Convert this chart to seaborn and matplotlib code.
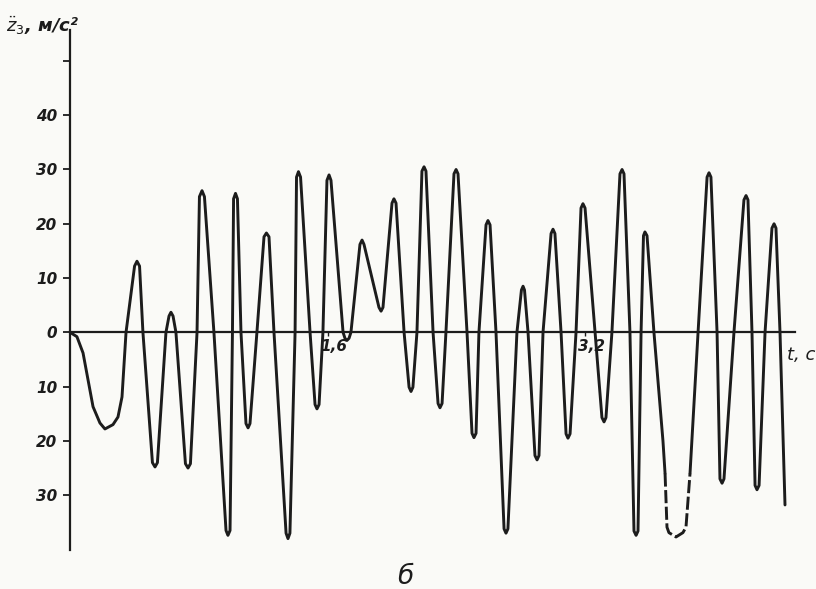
import matplotlib
matplotlib.use("Agg")
import matplotlib.pyplot as plt
import matplotlib.transforms as mtransforms
import seaborn as sns
import pandas as pd
from matplotlib.ticker import FixedLocator, FuncFormatter

# --------------------------
# style
# --------------------------
sns.set_theme(style="white", context="paper")
plt.rcParams["font.family"] = ["DejaVu Sans"]
plt.rcParams["mathtext.fontset"] = "dejavusans"

INK = "#1c1c1c"
PAPER = "#fafaf7"

# =========================================================
# data: acceleration z3'' (m/s^2) vs time t (s)
# =========================================================
t_main = [
    0.000, 0.043, 0.081, 0.112, 0.143, 0.186, 0.217, 0.267, 0.298, 0.323, 0.348,
    0.401, 0.416, 0.432, 0.453,
    0.512, 0.528, 0.543, 0.596,
    0.615, 0.627, 0.640, 0.658,
    0.717, 0.733, 0.748, 0.789,
    0.804, 0.820, 0.835, 0.894,
    0.969, 0.981, 0.994, 1.009,
    1.016, 1.028, 1.040, 1.062,
    1.093, 1.106, 1.118, 1.161,
    1.205, 1.220, 1.236, 1.267,
    1.342, 1.354, 1.366, 1.398,
    1.407, 1.419, 1.432, 1.491,
    1.522, 1.534, 1.547, 1.571,
    1.596, 1.609, 1.621, 1.696,
    1.708, 1.720, 1.733, 1.745,
    1.801, 1.814, 1.826,
    1.919, 1.932, 1.944,
    2.000, 2.012, 2.025, 2.075,
    2.106, 2.118, 2.130, 2.155,
    2.186, 2.199, 2.211, 2.255,
    2.286, 2.298, 2.311, 2.335,
    2.385, 2.398, 2.410, 2.466,
    2.497, 2.509, 2.522, 2.540,
    2.584, 2.596, 2.609, 2.646,
    2.696, 2.708, 2.720, 2.776,
    2.804, 2.814, 2.823, 2.845,
    2.888, 2.901, 2.913, 2.938,
    2.988, 3.000, 3.012, 3.050,
    3.081, 3.093, 3.106, 3.143,
    3.174, 3.186, 3.199, 3.261,
    3.304, 3.317, 3.329, 3.366,
    3.416, 3.429, 3.441, 3.478,
    3.503, 3.516, 3.528, 3.547,
    3.562, 3.571, 3.584, 3.627,
    3.683, 3.696,
]
z_main = [
    0.0, -0.8, -3.8, -8.7, -13.7, -16.7, -17.8, -17.0, -15.6, -11.9, 0.0,
    12.2, 13.1, 12.2, 0.0,
    -24.0, -24.8, -24.0, 0.0,
    3.0, 3.7, 3.0, 0.0,
    -24.2, -25.0, -24.2, 0.0,
    25.0, 26.1, 25.0, 0.0,
    -36.5, -37.4, -36.5, 0.0,
    24.6, 25.6, 24.6, 0.0,
    -16.8, -17.6, -16.8, 0.0,
    17.6, 18.3, 17.6, 0.0,
    -37.0, -38.0, -37.0, 0.0,
    28.6, 29.6, 28.6, 0.0,
    -13.3, -14.1, -13.3, 0.0,
    28.0, 29.0, 28.0, 0.0,
    -1.1, -1.5, -1.1, 0.0,
    16.2, 17.0, 16.2,
    4.6, 3.9, 4.6,
    23.8, 24.6, 23.8, 0.0,
    -10.1, -10.9, -10.1, 0.0,
    29.7, 30.5, 29.7, 0.0,
    -13.1, -13.9, -13.1, 0.0,
    29.2, 30.0, 29.2, 0.0,
    -18.6, -19.4, -18.6, 0.0,
    19.8, 20.6, 19.8, 0.0,
    -36.2, -37.0, -36.2, 0.0,
    7.8, 8.5, 7.8, 0.0,
    -22.7, -23.5, -22.7, 0.0,
    18.2, 19.0, 18.2, 0.0,
    -18.7, -19.5, -18.7, 0.0,
    22.9, 23.7, 22.9, 0.0,
    -15.7, -16.5, -15.7, 0.0,
    29.2, 30.0, 29.2, 0.0,
    -36.6, -37.4, -36.6, 0.0,
    17.8, 18.5, 17.8, 0.0,
    -20.0, -26.0,
]

# dashed part of the deep trough near t = 3.77 s
t_dash = [3.696, 3.708, 3.720, 3.764, 3.807, 3.826, 3.851]
z_dash = [-26.0, -35.9, -36.9, -37.7, -36.9, -35.9, -26.0]

t_tail = [
    3.851, 3.901,
    3.957, 3.969, 3.981, 4.019,
    4.037, 4.050, 4.062, 4.124,
    4.186, 4.199, 4.211, 4.236,
    4.255, 4.267, 4.280, 4.317,
    4.360, 4.373, 4.385, 4.410,
    4.441,
]
z_tail = [
    -26.0, 0.0,
    28.6, 29.4, 28.6, 0.0,
    -27.0, -27.8, -27.0, 0.0,
    24.4, 25.2, 24.4, 0.0,
    -28.2, -29.0, -28.2, 0.0,
    19.2, 20.0, 19.2, 0.0,
    -31.8,
]

y_ticks = [50, 40, 30, 20, 10, 0, -10, -20, -30]
x_ticks = [1.6, 3.2]
x_tick_labels = ["1,6", "3,2"]

df_main = pd.DataFrame({"t": t_main, "z": z_main})
df_dash = pd.DataFrame({"t": t_dash, "z": z_dash})
df_tail = pd.DataFrame({"t": t_tail, "z": z_tail})

# =========================================================
# plot
# =========================================================
fig = plt.figure(figsize=(8.16, 5.89), dpi=100, facecolor=PAPER)
ax = fig.add_axes([70 / 816, 1 - 550 / 589, 725 / 816, 520 / 589])
ax.set_facecolor(PAPER)

line_kw = dict(x="t", y="z", ax=ax, color=INK, linewidth=2.1,
               sort=False, estimator=None)
sns.lineplot(data=df_main, **line_kw)
sns.lineplot(data=df_tail, **line_kw)
sns.lineplot(data=df_dash, linestyle=(0, (4.5, 1.2)), **line_kw)
for ln in ax.lines:
    ln.set_solid_joinstyle("round")
    ln.set_dash_joinstyle("round")

ax.set_xlim(0, 725 / 161)
ax.set_ylim(-40.1, 55.7)

for side in ["top", "right"]:
    ax.spines[side].set_visible(False)
ax.spines["left"].set_linewidth(1.6)
ax.spines["left"].set_color(INK)
ax.spines["bottom"].set_position(("data", 0))
ax.spines["bottom"].set_linewidth(1.6)
ax.spines["bottom"].set_color(INK)

ax.yaxis.set_major_locator(FixedLocator(y_ticks))
ax.yaxis.set_major_formatter(
    FuncFormatter(lambda v, pos: "" if v >= 50 else f"{abs(int(round(v)))}"))
ax.xaxis.set_major_locator(FixedLocator(x_ticks))
ax.set_xticklabels(x_tick_labels)

ax.tick_params(axis="y", direction="out", length=5, width=1.3, color=INK,
               pad=4, labelsize=11, labelcolor=INK, left=True)
ax.tick_params(axis="x", direction="out", length=3, width=1.0, color=INK,
               pad=2, labelsize=11, labelcolor=INK, bottom=True)
for lab in ax.get_yticklabels() + ax.get_xticklabels():
    lab.set_fontstyle("italic")
    lab.set_fontweight("bold")

# nudge the x tick labels a little to the right, as on the scan
shift = mtransforms.ScaledTranslation(6 / 100, 0, fig.dpi_scale_trans)
for lab in ax.get_xticklabels():
    lab.set_transform(lab.get_transform() + shift)

ax.set_xlabel("")
ax.set_ylabel("")

fig.text(6 / 816, 1 - 32 / 589, r"$\ddot{z}_3$, м/с²", fontsize=13,
         fontstyle="italic", fontweight="bold", color=INK,
         ha="left", va="baseline")
fig.text(787 / 816, 1 - 360 / 589, "t, с", fontsize=13,
         fontstyle="italic", color=INK, ha="left", va="baseline")
fig.text(405 / 816, 1 - 584 / 589, "б", fontsize=19,
         fontstyle="italic", color=INK, ha="center", va="baseline")

fig.savefig("out.png", dpi=100, facecolor=PAPER)
